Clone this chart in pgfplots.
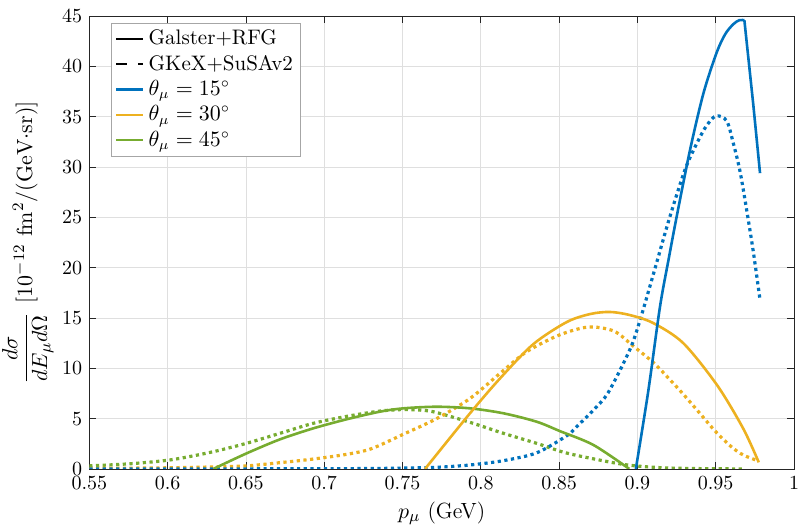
\documentclass[border=0pt]{standalone}
\usepackage{pgfplots}
\pgfplotsset{compat=1.18}
\usetikzlibrary{calc}
\definecolor{mblue}{rgb}{0,0.447,0.741}
\definecolor{morange}{rgb}{0.929,0.694,0.125}
\definecolor{mgreen}{rgb}{0.466,0.674,0.188}
\definecolor{axgray}{rgb}{0.15,0.15,0.15}
\begin{document}
\begin{tikzpicture}
\begin{axis}[
  scale only axis,
  width=352.35pt, height=226.35pt,
  xmin=0.55, xmax=1, ymin=0, ymax=45,
  xtick={0.55,0.6,0.65,0.7,0.75,0.8,0.85,0.9,0.95,1},
  xticklabels={0.55,0.6,0.65,0.7,0.75,0.8,0.85,0.9,0.95,1},
  ytick={0,5,10,15,20,25,30,35,40,45},
  tick align=inside, tick pos=both,
  major tick length=3.5pt,
  grid=major,
  major grid style={gray!25, line width=0.4pt},
  axis line style={axgray, line width=0.4pt},
  every tick/.style={axgray, line width=0.4pt},
  xlabel={$p_\mu$ (GeV)},
  ylabel={$\displaystyle\frac{d\sigma}{dE_\mu d\Omega}$\hspace{5pt}$[10^{-12}\ \mathrm{fm}^2/(\mathrm{GeV}{\cdot}\mathrm{sr})]$},
  label style={font=\fontsize{11}{13}\selectfont},
  xlabel style={yshift=1pt},
  ylabel style={yshift=-2.5pt},
  legend cell align=left,
  legend style={at={(0,1)}, anchor=north west, xshift=11pt, yshift=-3.2pt,
    draw=gray!70, fill=white, line width=0.4pt, inner sep=1.5pt,
    row sep=-0.4pt, font=\fontsize{10.5}{12.5}\selectfont},
  legend image code/.code={\draw[#1] (0cm,0cm) -- (13.6pt,0cm);},
  solidline/.style={line width=1.3pt},
  dotline/.style={line width=1.6pt, dash pattern=on 1.6pt off 1.75pt},
]
\addlegendimage{black, line width=1.3pt}
\addlegendentry{Galster+RFG}
\addlegendimage{black, line width=1.4pt, dash pattern=on 5.3pt off 5.8pt}
\addlegendentry{GKeX+SuSAv2}
\addlegendimage{mblue, line width=1.2pt}
\addlegendentry{$\theta_\mu = 15^\circ$}
\addlegendimage{morange, line width=1.2pt}
\addlegendentry{$\theta_\mu = 30^\circ$}
\addlegendimage{mgreen, line width=1.2pt}
\addlegendentry{$\theta_\mu = 45^\circ$}

% Green dotted (45 deg, GKeX+SuSAv2)
\addplot[mgreen, dotline, smooth, tension=0.5, forget plot] coordinates {
(0.55,0.3) (0.575,0.5) (0.595,0.77) (0.608,1.05) (0.6292,1.71) (0.6505,2.55)
(0.6718,3.54) (0.693,4.53) (0.7143,5.22) (0.7356,5.75) (0.7506,5.9) (0.7633,5.82)
(0.7718,5.6) (0.7931,4.63) (0.8144,3.54) (0.8357,2.54) (0.853,1.65) (0.8719,1.0)
(0.8932,0.4) (0.915,0.12) (0.94,0.03) (0.968,0)
};
% Orange dotted (30 deg)
\addplot[morange, dotline, smooth, tension=0.5, forget plot] coordinates {
(0.55,0.05) (0.58,0.08) (0.60,0.11) (0.63,0.2) (0.6505,0.3) (0.6718,0.62)
(0.693,0.98) (0.7143,1.45) (0.73,2.0) (0.7506,3.45) (0.7718,5.0)
(0.7931,7.0) (0.8123,9.5) (0.8293,11.65) (0.85,13.3) (0.8687,14.1) (0.885,13.7)
(0.8974,12.2) (0.91,10.6) (0.92,9.0) (0.93,7.3) (0.94,5.5) (0.95,3.7) (0.96,2.2)
(0.9676,1.38) (0.9772,0.8)
};
% Blue dotted (15 deg)
\addplot[mblue, dotline, smooth, tension=0.5, forget plot] coordinates {
(0.55,0) (0.65,0.005) (0.72,0.03) (0.75,0.08) (0.7718,0.16) (0.7931,0.39) (0.8144,0.82)
(0.8357,1.6) (0.8549,3.3) (0.8612,4.2) (0.8719,5.85) (0.8814,7.6)
(0.8953,11.9) (0.9017,14.8) (0.9101,19.3) (0.9187,24.0) (0.925,27.2) (0.9315,30.2)
(0.94,33.0) (0.945,34.3) (0.9504,35.1) (0.957,34.6) (0.9612,32.4) (0.9655,29.6)
(0.9698,25.7) (0.974,21.6) (0.9783,16.8)
};
% Green solid
\addplot[mgreen, solidline, smooth, tension=0.5, forget plot] coordinates {
(0.6292,0) (0.6505,1.55) (0.6718,2.94) (0.693,4.03) (0.7143,4.93) (0.7356,5.69)
(0.7506,6.02) (0.7718,6.18) (0.7931,6.02) (0.8144,5.53) (0.8357,4.69) (0.8506,3.75)
(0.8719,2.38) (0.8948,0)
};
% Orange solid
\addplot[morange, solidline, smooth, tension=0.5, forget plot] coordinates {
(0.7644,0) (0.7931,5.53) (0.8123,9.0) (0.8335,12.4) (0.8549,14.6)
(0.87,15.4) (0.8825,15.6) (0.895,15.3) (0.9101,14.5) (0.9293,12.5) (0.951,8.3)
(0.9676,4.0) (0.9775,0.65)
};
% Blue solid (rising part)
\addplot[mblue, solidline, smooth, tension=0.5, forget plot] coordinates {
(0.899,0) (0.907,7.8) (0.9144,16.1) (0.92,20.9) (0.9251,25.1)
(0.9336,31.7) (0.9421,37.3) (0.9504,41.3) (0.956,43.2) (0.9612,44.2) (0.965,44.6)
(0.9683,44.6)
};
% Blue solid (drop)
\addplot[mblue, solidline, forget plot] coordinates {
(0.9683,44.6) (0.974,36.2) (0.9783,29.4)
};
\end{axis}
\pgfresetboundingbox
\path ($(current axis.south west)+(-44.65pt,-27.55pt)$) rectangle ($(current axis.north east)+(2pt,8.1pt)$);
\end{tikzpicture}
\end{document}
